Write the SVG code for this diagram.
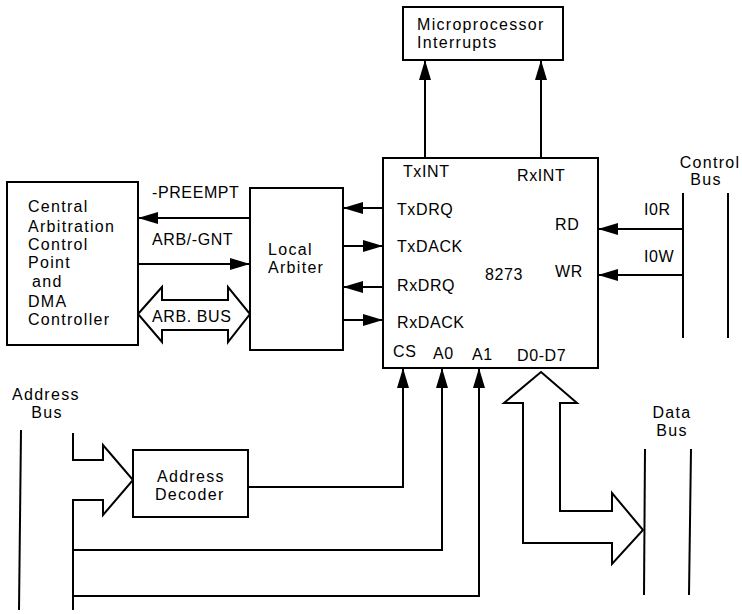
<svg xmlns="http://www.w3.org/2000/svg" width="742" height="614" viewBox="0 0 742 614">
<style>
.box{fill:#fff;stroke:#000;stroke-width:2}
.ln{fill:none;stroke:#000;stroke-width:2}
.bus{fill:#fff;stroke:#000;stroke-width:2;stroke-linejoin:miter}
text{font-family:"Liberation Sans",Arial,sans-serif;font-size:16px;fill:#000;letter-spacing:0.6px}
.w{letter-spacing:1.3px}
</style>
<defs>
<marker id="ah" markerUnits="userSpaceOnUse" markerWidth="20" markerHeight="12" refX="20" refY="6" orient="auto">
<path d="M0,0 L20,6 L0,12 z" fill="#000"/>
</marker>
</defs>
<rect width="742" height="614" fill="#fff"/>
<g id="connectors">
<line class="ln" x1="425" y1="158" x2="425" y2="60" marker-end="url(#ah)"/>
<line class="ln" x1="541" y1="158" x2="541" y2="60" marker-end="url(#ah)"/>
<line class="ln" x1="250" y1="218" x2="138" y2="218" marker-end="url(#ah)"/>
<line class="ln" x1="138" y1="264" x2="250" y2="264" marker-end="url(#ah)"/>
<polygon class="bus" points="138,314 162,287 162,300 228,300 228,287 250,314 228,342 228,330 162,330 162,342"/>
<line class="ln" x1="383" y1="208" x2="343" y2="208" marker-end="url(#ah)"/>
<line class="ln" x1="343" y1="246" x2="383" y2="246" marker-end="url(#ah)"/>
<line class="ln" x1="383" y1="287" x2="343" y2="287" marker-end="url(#ah)"/>
<line class="ln" x1="343" y1="320" x2="383" y2="320" marker-end="url(#ah)"/>
<line class="ln" x1="683" y1="229" x2="598" y2="229" marker-end="url(#ah)"/>
<line class="ln" x1="683" y1="275" x2="598" y2="275" marker-end="url(#ah)"/>
<polyline class="bus" points="73,433 73,460 103,460 103,445 133,480 103,515 103,500 73,500 73,610" style="fill:none"/>
<polyline class="ln" points="248,487 403,487 403,368" marker-end="url(#ah)"/>
<polyline class="ln" points="73,550 442,550 442,368" marker-end="url(#ah)"/>
<polyline class="ln" points="73,596 479,596 479,368" marker-end="url(#ah)"/>
<polygon class="bus" points="541,372 577,403 560,403 560,511 612,511 612,493 643,530 612,564 612,543 523,543 523,403 504,403"/>
</g>
<g id="microprocessor-interrupts">
<rect class="box" x="403" y="7" width="160" height="53"/>
<text class="w" x="417" y="30">Microprocessor</text>
<text class="w" x="417" y="48">Interrupts</text>
</g>
<g id="central-arbitration">
<rect class="box" x="7" y="182" width="131" height="163"/>
<text class="w" x="28" y="212">Central</text>
<text class="w" x="28" y="232">Arbitration</text>
<text class="w" x="28" y="250">Control</text>
<text class="w" x="28" y="268">Point</text>
<text class="w" x="32" y="287">and</text>
<text class="w" x="28" y="307">DMA</text>
<text class="w" x="28" y="325">Controller</text>
</g>
<g id="labels-arb">
<text x="152" y="198">-PREEMPT</text>
<text x="152" y="245">ARB/-GNT</text>
<text x="152" y="322">ARB. BUS</text>
</g>
<g id="local-arbiter">
<rect class="box" x="250" y="188" width="93" height="162"/>
<text class="w" x="268" y="255">Local</text>
<text class="w" x="268" y="273">Arbiter</text>
</g>
<g id="chip-8273">
<rect class="box" x="383" y="158" width="215" height="210"/>
<text x="403" y="177">TxINT</text>
<text x="517" y="181">RxINT</text>
<text x="397" y="215">TxDRQ</text>
<text x="555" y="230">RD</text>
<text x="397" y="252">TxDACK</text>
<text x="485" y="280">8273</text>
<text x="555" y="277">WR</text>
<text x="397" y="291">RxDRQ</text>
<text x="397" y="328">RxDACK</text>
<text x="393" y="357">CS</text>
<text x="433" y="359">A0</text>
<text x="472" y="360">A1</text>
<text x="517" y="361">D0-D7</text>
</g>
<g id="control-bus">
<text class="w" x="710" y="168" text-anchor="middle">Control</text>
<text class="w" x="706" y="185" text-anchor="middle">Bus</text>
<line class="ln" x1="683" y1="193" x2="683" y2="338"/>
<line class="ln" x1="728" y1="193" x2="728" y2="338"/>
<text x="644" y="215">I0R</text>
<text x="644" y="262">I0W</text>
</g>
<g id="address-bus">
<text class="w" x="12" y="400">Address</text>
<text class="w" x="47" y="418" text-anchor="middle">Bus</text>
<line class="ln" x1="21" y1="430" x2="19" y2="610"/>
</g>
<g id="address-decoder">
<rect class="box" x="133" y="450" width="115" height="67"/>
<text class="w" x="157" y="482">Address</text>
<text class="w" x="155" y="500">Decoder</text>
</g>
<g id="data-bus">
<text class="w" x="672" y="418" text-anchor="middle">Data</text>
<text class="w" x="672" y="436" text-anchor="middle">Bus</text>
<line class="ln" x1="645" y1="449" x2="644" y2="595"/>
<line class="ln" x1="691" y1="449" x2="689" y2="595"/>
</g>
</svg>
